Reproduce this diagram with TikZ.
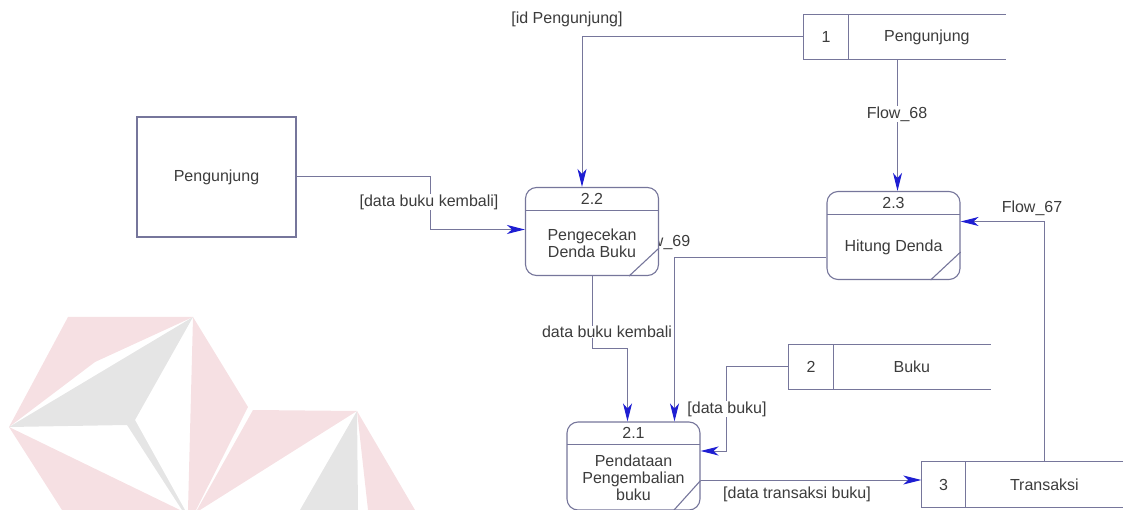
\documentclass[tikz,border=0pt]{standalone}
\usepackage{fontspec}
\setmainfont{Liberation Sans}
\usetikzlibrary{positioning,arrows.meta}
\definecolor{linegray}{RGB}{118,118,155}
\definecolor{tipblue}{RGB}{30,30,210}
\definecolor{txtgray}{RGB}{60,60,60}
\definecolor{wmpink}{RGB}{246,224,227}
\definecolor{wmgray}{RGB}{229,229,229}
\begin{document}
\begin{tikzpicture}[x=1pt, y=-1pt,
    every node/.style={font=\fontsize{16}{17}\selectfont, text=txtgray, inner sep=0pt},
    entity/.style={draw=linegray, line width=1.1pt, minimum width=159pt, minimum height=120pt},
    proc/.style={draw=linegray, fill=white, line width=1.1pt, rounded corners=11pt,
        minimum width=133pt, minimum height=88pt},
    prochead/.style={minimum width=133pt, minimum height=23pt},
    procbody/.style={align=center, minimum height=66pt},
    storeid/.style={minimum width=44pt, minimum height=45pt},
    storename/.style={minimum width=157pt, minimum height=45pt},
    border/.style={draw=linegray, line width=1.1pt},
    flow/.style={draw=linegray, line width=1pt,
        -{Stealth[length=18pt, width=9pt, inset=5pt, color=tipblue]}},
    flowlbl/.style={fill=white, inner sep=1pt}]
    \useasboundingbox (0,0) rectangle (1124,510);

    % watermark
    \fill[wmpink] (68,317) -- (193,317) -- (95,362) -- (9,427) -- cycle;
    \fill[wmgray] (9,427) -- (193,317) -- (135,420) -- (185,510) -- (182,510) -- (127,425) -- cycle;
    \fill[wmpink] (193,317) -- (248,407) -- (196,510) -- (188,510) -- cycle;
    \fill[wmpink] (9,427) -- (62,510) -- (180,510) -- cycle;
    \fill[wmpink] (253,410) -- (357,411) -- (200,510) -- (197,510) -- cycle;
    \fill[wmgray] (357,411) -- (300,510) -- (358,510) -- cycle;
    \fill[wmpink] (357,411) -- (368,510) -- (415,510) -- cycle;

    % label half hidden by process 2.2
    \node (lf69) at (660,242) {Flow\_69};

    % external entity
    \node[entity] (ent) at (216.5,177) {Pengunjung};

    % data stores
    \node[storeid] (s1) at (826,37) {1};
    \node[storename, right=0pt of s1] (s1n) {Pengunjung};
    \draw[border] (s1n.north east) -- (s1.north west) -- (s1.south west) -- (s1n.south east);
    \draw[border] (s1.north east) -- (s1.south east);

    \node[storeid] (s2) at (811,367) {2};
    \node[storename, right=0pt of s2] (s2n) {Buku};
    \draw[border] (s2n.north east) -- (s2.north west) -- (s2.south west) -- (s2n.south east);
    \draw[border] (s2.north east) -- (s2.south east);

    \node[storeid] (s3) at (943.5,484.5) {3};
    \node[storename, right=0pt of s3] (s3n) {Transaksi};
    \draw[border] (s3n.north east) -- (s3.north west) -- (s3.south west) -- (s3n.south east);
    \draw[border] (s3.north east) -- (s3.south east);

    % processes
    \node[proc] (p22) at (592,231.5) {};
    \node[prochead, below=0pt of p22.north] (h22) {2.2};
    \draw[border] (h22.south west) -- (h22.south east);
    \node[procbody, below=0pt of h22] (b22) {Pengecekan\\Denda Buku};
    \draw[border] ([xshift=-30pt]p22.south east) -- ([yshift=28pt]p22.south east);

    \node[proc] (p23) at (893.5,235.5) {};
    \node[prochead, below=0pt of p23.north] (h23) {2.3};
    \draw[border] (h23.south west) -- (h23.south east);
    \node[procbody, below=0pt of h23] (b23) {Hitung Denda};
    \draw[border] ([xshift=-30pt]p23.south east) -- ([yshift=28pt]p23.south east);

    \node[proc] (p21) at (633.5,466) {};
    \node[prochead, below=0pt of p21.north] (h21) {2.1};
    \draw[border] (h21.south west) -- (h21.south east);
    \node[procbody, below=0pt of h21] (b21) {Pendataan\\Pengembalian\\buku};
    \draw[border] ([xshift=-27pt]p21.south east) -- ([yshift=30pt]p21.south east);

    % flows
    \draw[flow] (s1.west) -| ([xshift=-10pt]p22.north);
    \draw[flow] (ent.east) -- ++(134,0) |- ([yshift=2pt]p22.west);
    \coordinate (f68) at ([xshift=4pt]p23.north);
    \draw[flow] (f68 |- s1n.south) -- (f68);
    \draw[flow] (s3n.north) |- ([yshift=14pt]p23.east);
    \draw[flow] ([yshift=-22pt]p23.west) -| ([xshift=41pt]p21.north);
    \draw[flow] (p22.south) -- ++(0,72) -| ([xshift=-6pt]p21.north);
    \draw[flow] (s2.west) -- ++(-62,0) |- ([yshift=15pt]p21.east);
    \coordinate (t21) at ([yshift=-14pt]p21.east);
    \draw[flow] (t21) -- (t21 -| s3.west);

    % flow labels
    \node[flowlbl] (lidp) at (567,19) {[id Pengunjung]};
    \node[flowlbl] (ldbk) at (429,202) {[data buku kembali]};
    \node[flowlbl] (lf68) at (897,114) {Flow\_68};
    \node[flowlbl] (lf67) at (1032,208) {Flow\_67};
    \node[flowlbl, inner sep=0pt] (lkem) at (607,332) {data buku kembali};
    \node[flowlbl] (ldb) at (727,409) {[data buku]};
    \node[flowlbl] (ldtb) at (797,494) {[data transaksi buku]};
\end{tikzpicture}
\end{document}
